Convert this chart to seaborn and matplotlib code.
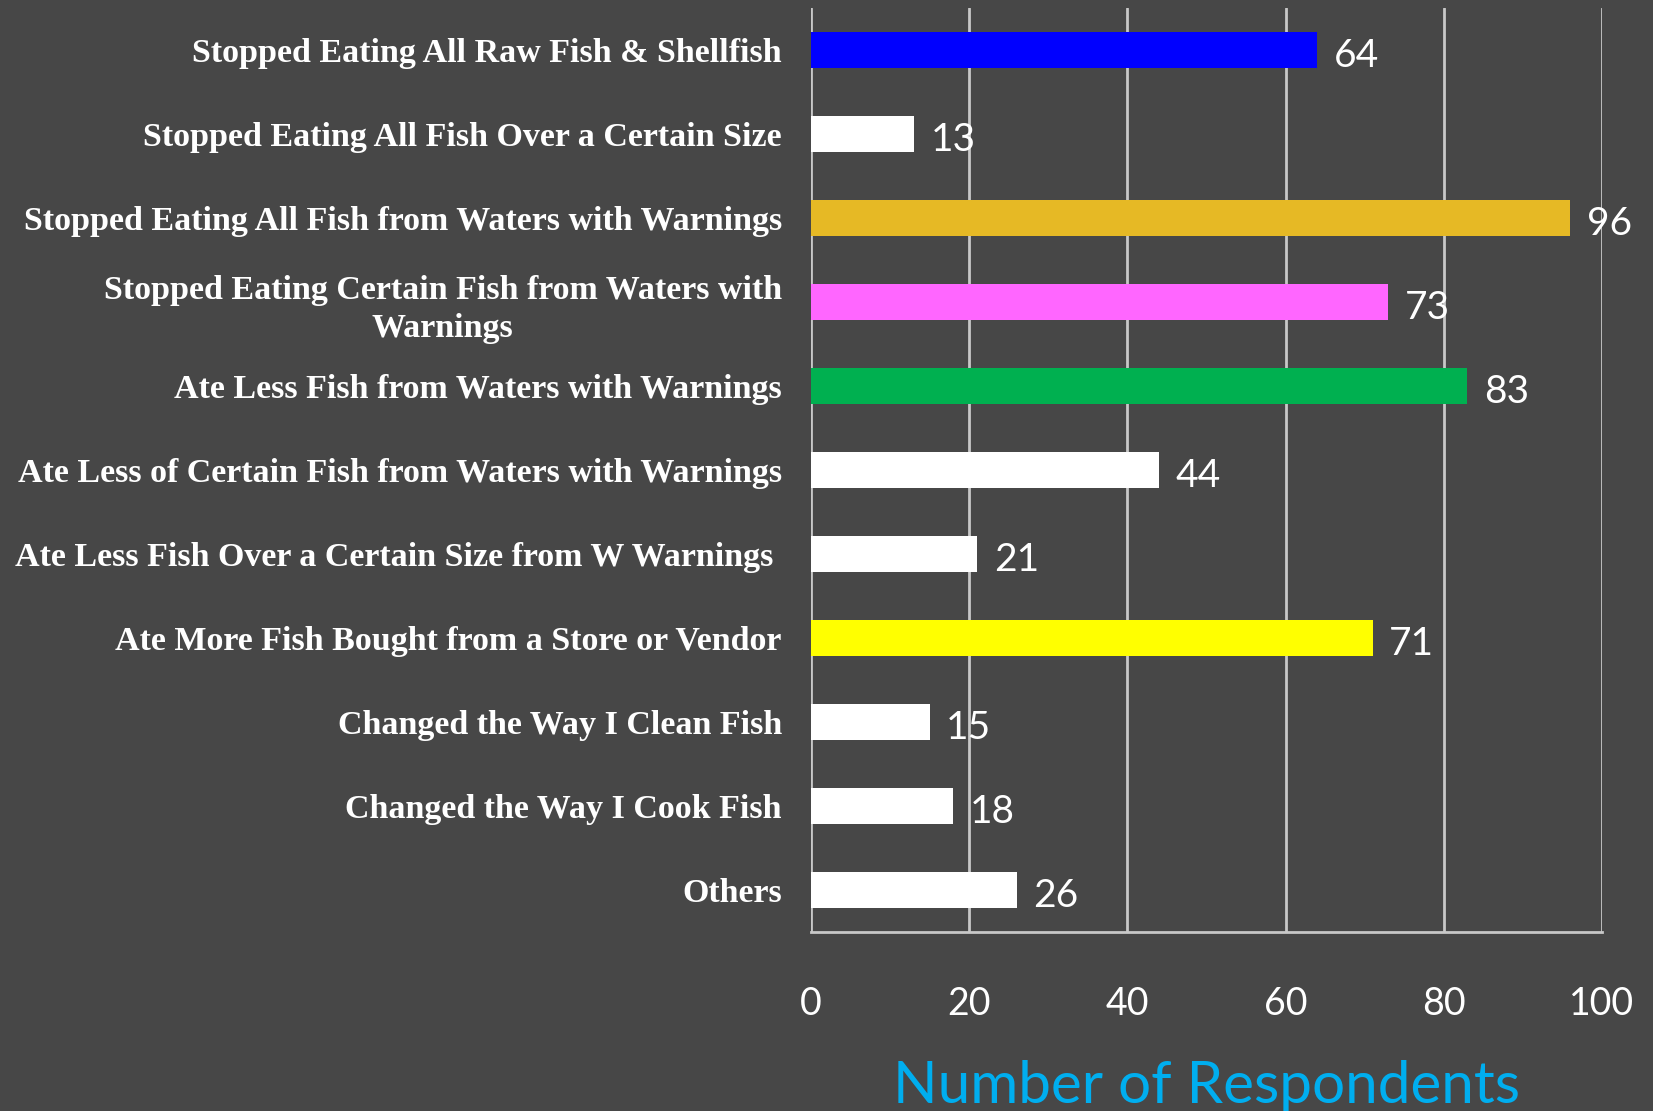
import matplotlib
matplotlib.use("Agg")
import matplotlib.pyplot as plt
import seaborn as sns
import pandas as pd

categories = [
    "Stopped Eating All Raw Fish & Shellfish",
    "Stopped Eating All Fish Over a Certain Size",
    "Stopped Eating All Fish from Waters with Warnings",
    "Stopped Eating Certain Fish from Waters with\nWarnings",
    "Ate Less Fish from Waters with Warnings",
    "Ate Less of Certain Fish from Waters with Warnings",
    "Ate Less Fish Over a Certain Size from W Warnings ",
    "Ate More Fish Bought from a Store or Vendor",
    "Changed the Way I Clean Fish",
    "Changed the Way I Cook Fish",
    "Others",
]
values = [64, 13, 96, 73, 83, 44, 21, 71, 15, 18, 26]
bar_colors = ["#0000ff", "#ffffff", "#e6b925", "#ff66ff", "#00b050", "#ffffff",
              "#ffffff", "#ffff00", "#ffffff", "#ffffff", "#ffffff"]
x_ticks = [0, 20, 40, 60, 80, 100]
x_label = "Number of Respondents"

df = pd.DataFrame({"category": categories, "value": values})

sns.set_theme(style="white")
bg = "#474747"
fig = plt.figure(figsize=(16.53, 11.11), dpi=100, facecolor=bg)
ax = fig.add_axes([0.4906, 0.1611, 0.9691 - 0.4906, 0.9928 - 0.1611])
ax.set_facecolor(bg)

sns.barplot(data=df, x="value", y="category", hue="category",
            palette=bar_colors, legend=False, width=0.42, ax=ax,
            saturation=1, orient="h", zorder=3, linewidth=0)

ax.set_xlim(0, 100)
ax.set_ylim(len(categories) - 0.5, -0.5)
ax.set_xticks(x_ticks)
ax.set_xticklabels([str(t) for t in x_ticks], fontsize=27, color="white",
                   family=["Lato", "DejaVu Sans"])
ax.tick_params(axis="x", length=14, width=2, color="#c8c8c8", pad=25, direction="out")
ax.tick_params(axis="y", length=0, pad=21)
for lbl in ax.get_yticklabels():
    lbl.set_fontsize(24.5)
    lbl.set_color("white")
    lbl.set_family(["Liberation Serif", "DejaVu Serif"])
    lbl.set_fontweight("bold")
    lbl.set_multialignment("center")
    lbl.set_linespacing(1.3)

ax.grid(axis="x", color="#c8c8c8", linewidth=2, zorder=0)
for s in ["top", "right", "left"]:
    ax.spines[s].set_visible(False)
ax.spines["bottom"].set_color("#c8c8c8")
ax.spines["bottom"].set_linewidth(2)

for i, v in enumerate(values):
    ax.annotate(str(v), (v, i), xytext=(12, -4), textcoords="offset points",
                va="center", ha="left", fontsize=28, color="white",
                family=["Lato", "DejaVu Sans"])

ax.set_ylabel("")
ax.set_xlabel(x_label, fontsize=42, color="#00aeef",
              family=["Lato", "DejaVu Sans"])
ax.xaxis.set_label_coords(0.5, -0.139)

fig.savefig("out.png", dpi=100, facecolor=bg)
